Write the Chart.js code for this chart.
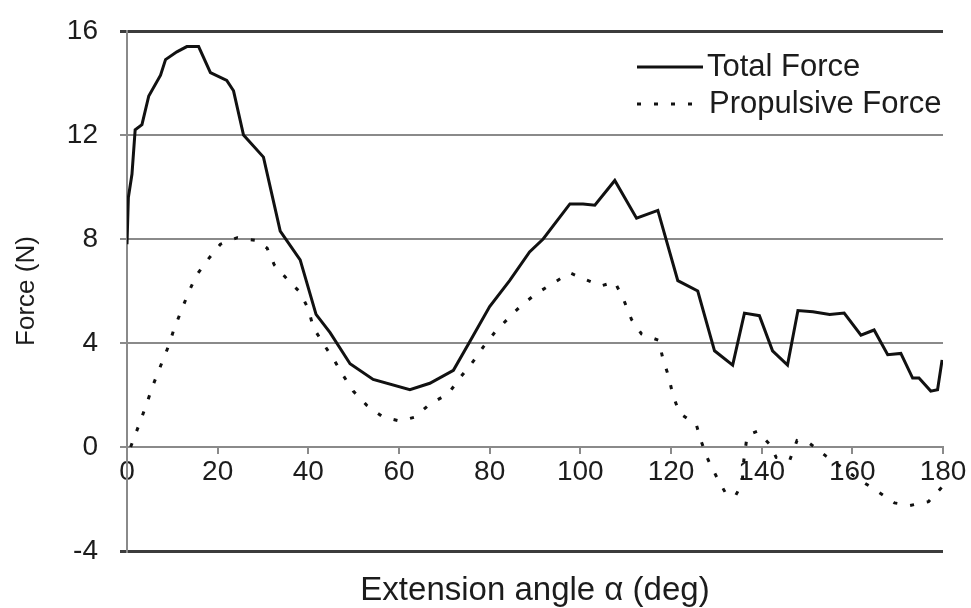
<!DOCTYPE html>
<html>
<head>
<meta charset="utf-8">
<title>Force vs extension angle</title>
<script src="https://cdn.jsdelivr.net/npm/chart.js@4/dist/chart.umd.min.js"></script>
<style>
  html, body { margin: 0; padding: 0; background: #ffffff; }
  canvas { display: block; }
</style>
</head>
<body>
<canvas id="forceChart" width="971" height="608"></canvas>
<script>
// Total force (N) against extension angle (deg)
const totalAngle = [0, 0.3, 1.1, 1.8, 3.3, 4.8, 7.4, 8.5, 11, 13.2, 15.8, 18.4, 22, 23.5, 25.7,
  30.1, 33.8, 38.2, 41.7, 44.8, 49.2, 54.3, 62.4, 66.8, 72, 75.6, 80, 84.4, 88.8, 91.8,
  97.7, 100.6, 103.2, 107.6, 112.4, 117.1, 121.5, 125.9, 129.6, 133.6, 136.2, 139.5,
  142.4, 145.7, 148, 151.3, 155, 158.2, 161.9, 164.8, 167.8, 170.7, 173.3, 174.7,
  177.3, 178.8, 179.8];
const totalForce = [7.8, 9.6, 10.5, 12.2, 12.4, 13.5, 14.3, 14.9, 15.2, 15.4, 15.4, 14.4, 14.1, 13.7, 12.0,
  11.15, 8.3, 7.2, 5.1, 4.4, 3.2, 2.6, 2.2, 2.45, 2.95, 4.05, 5.4, 6.4, 7.5, 8.0,
  9.35, 9.35, 9.3, 10.25, 8.8, 9.1, 6.4, 6.0, 3.7, 3.15, 5.15, 5.05,
  3.7, 3.15, 5.25, 5.2, 5.1, 5.15, 4.3, 4.5, 3.55, 3.6, 2.65, 2.65,
  2.15, 2.2, 3.35];

// Propulsive force (N) against extension angle (deg)
const propAngle = [0.8, 2.9, 4.4, 5.9, 7.6, 9.2, 10.3, 12.1, 13.6, 15.3, 17.8, 20.6, 24.3, 28.3,
  30.9, 32.5, 35.6, 38.2, 40, 41.1, 43.2, 45.5, 47.7, 49.9, 52.9, 56.5, 60.2, 63.5,
  66.8, 70.9, 73.4, 76.4, 78.6, 81.1, 84.1, 87, 90.3, 94, 97.7, 101, 104.6, 107.6,
  109.6, 111.3, 113.5, 117.3, 118.2, 119.5, 120.4, 121.9, 125.6, 126.7, 128.2, 130.2,
  132.3, 134.3, 135.7, 136, 136.8, 139, 141.8, 143.2, 146.2, 147.8, 150.5, 154.2,
  161, 165.1, 169.3, 172.7, 176.8, 180];
const propForce = [0.0, 0.97, 1.7, 2.45, 3.2, 3.9, 4.5, 5.3, 5.95, 6.6, 7.2, 7.8, 8.05, 7.95,
  7.65, 7.0, 6.4, 5.95, 5.3, 4.6, 4.0, 3.4, 2.75, 2.15, 1.6, 1.15, 1.0, 1.15,
  1.65, 2.05, 2.65, 3.3, 3.85, 4.4, 4.95, 5.45, 5.9, 6.3, 6.7, 6.45, 6.2, 6.35,
  5.65, 4.9, 4.35, 4.1, 3.4, 2.7, 2.0, 1.3, 0.85, 0.2, -0.5, -1.2,
  -1.85, -1.85, -1.4, -0.6, 0.45, 0.6, 0.1, -0.4, -0.5, 0.25, 0.15, -0.35,
  -1.2, -1.65, -2.15, -2.25, -2.1, -1.5];

const angleTicks = [0, 20, 40, 60, 80, 100, 120, 140, 160, 180];
const forceTicks = [-4, 0, 4, 8, 12, 16];
const seriesNames = ['Total Force', 'Propulsive Force'];

const FONT = '"Liberation Sans", Arial, Helvetica, sans-serif';
const INK = '#1c1c1c';

function pairs(xs, ys) {
  return xs.map((x, i) => ({ x: x, y: ys[i] }));
}

// Line key drawn inside the plot, top right, using each dataset's own stroke style
const lineKey = {
  id: 'lineKey',
  afterDatasetsDraw(chart, args, opts) {
    const ctx = chart.ctx;
    chart.data.datasets.forEach((ds, i) => {
      const y = opts.top + i * opts.rowGap;
      ctx.save();
      ctx.strokeStyle = ds.borderColor;
      ctx.lineWidth = ds.borderWidth;
      ctx.setLineDash(ds.borderDash || []);
      ctx.beginPath();
      ctx.moveTo(opts.x, y);
      ctx.lineTo(opts.x + opts.sample[i], y);
      ctx.stroke();
      ctx.setLineDash([]);
      ctx.fillStyle = INK;
      ctx.font = opts.fontSize + 'px ' + FONT;
      ctx.textBaseline = 'middle';
      ctx.textAlign = 'left';
      ctx.fillText(ds.label, opts.x + opts.sample[i] + opts.gap, y);
      ctx.restore();
    });
  }
};

const edgeValues = [forceTicks[0], forceTicks[forceTicks.length - 1]];

new Chart(document.getElementById('forceChart'), {
  type: 'line',
  data: {
    datasets: [
      {
        label: seriesNames[0],
        data: pairs(totalAngle, totalForce),
        borderColor: '#111111',
        borderWidth: 3,
        pointRadius: 0,
        tension: 0,
        fill: false
      },
      {
        label: seriesNames[1],
        data: pairs(propAngle, propForce),
        borderColor: '#111111',
        borderWidth: 3,
        borderDash: [4, 13],
        pointRadius: 0,
        tension: 0,
        fill: false
      }
    ]
  },
  options: {
    responsive: false,
    animation: false,
    devicePixelRatio: 1,
    layout: { padding: { top: 31, right: 28, bottom: 0, left: 0 } },
    plugins: {
      legend: { display: false },
      tooltip: { enabled: false },
      lineKey: { x: 637, top: 67, rowGap: 37, sample: [66, 68], gap: 4, fontSize: 31 }
    },
    scales: {
      x: {
        type: 'linear',
        position: { y: 0 },
        min: 0,
        max: 180,
        afterBuildTicks: s => { s.ticks = angleTicks.map(v => ({ value: v })); },
        ticks: {
          font: { family: FONT, size: 28 },
          color: INK,
          padding: 2,
          maxRotation: 0,
          autoSkip: false
        },
        grid: {
          display: true,
          drawOnChartArea: false,
          drawTicks: true,
          tickLength: 6,
          color: '#8a8a8a',
          lineWidth: 2
        },
        border: { display: true, color: '#8a8a8a', width: 2 }
      },
      xTitle: {
        type: 'linear',
        axis: 'x',
        position: 'bottom',
        min: 0,
        max: 180,
        ticks: { display: false },
        grid: { display: false, drawTicks: false },
        border: { display: false },
        title: {
          display: true,
          text: 'Extension angle \u03b1 (deg)',
          font: { family: FONT, size: 33 },
          color: INK,
          padding: { top: 0, bottom: -3 }
        },
        afterFit: s => { s.height = 57; }
      },
      y: {
        type: 'linear',
        position: 'left',
        min: -4,
        max: 16,
        afterBuildTicks: s => { s.ticks = forceTicks.map(v => ({ value: v })); },
        afterFit: s => {
          s.width = 127;
          s.paddingTop = 0;
          s.paddingBottom = 0;
        },
        ticks: {
          font: { family: FONT, size: 28 },
          color: INK,
          padding: 22
        },
        grid: {
          drawTicks: true,
          tickLength: 7,
          color: c => edgeValues.includes(c.tick && c.tick.value) ? '#3c3c3c' : '#8a8a8a',
          lineWidth: c => edgeValues.includes(c.tick && c.tick.value) ? 3 : 2
        },
        border: { display: true, color: '#8a8a8a', width: 2 },
        title: {
          display: true,
          text: 'Force (N)',
          font: { family: FONT, size: 26 },
          color: INK,
          padding: { top: 11, bottom: 0 }
        }
      }
    }
  },
  plugins: [lineKey]
});
</script>
</body>
</html>
